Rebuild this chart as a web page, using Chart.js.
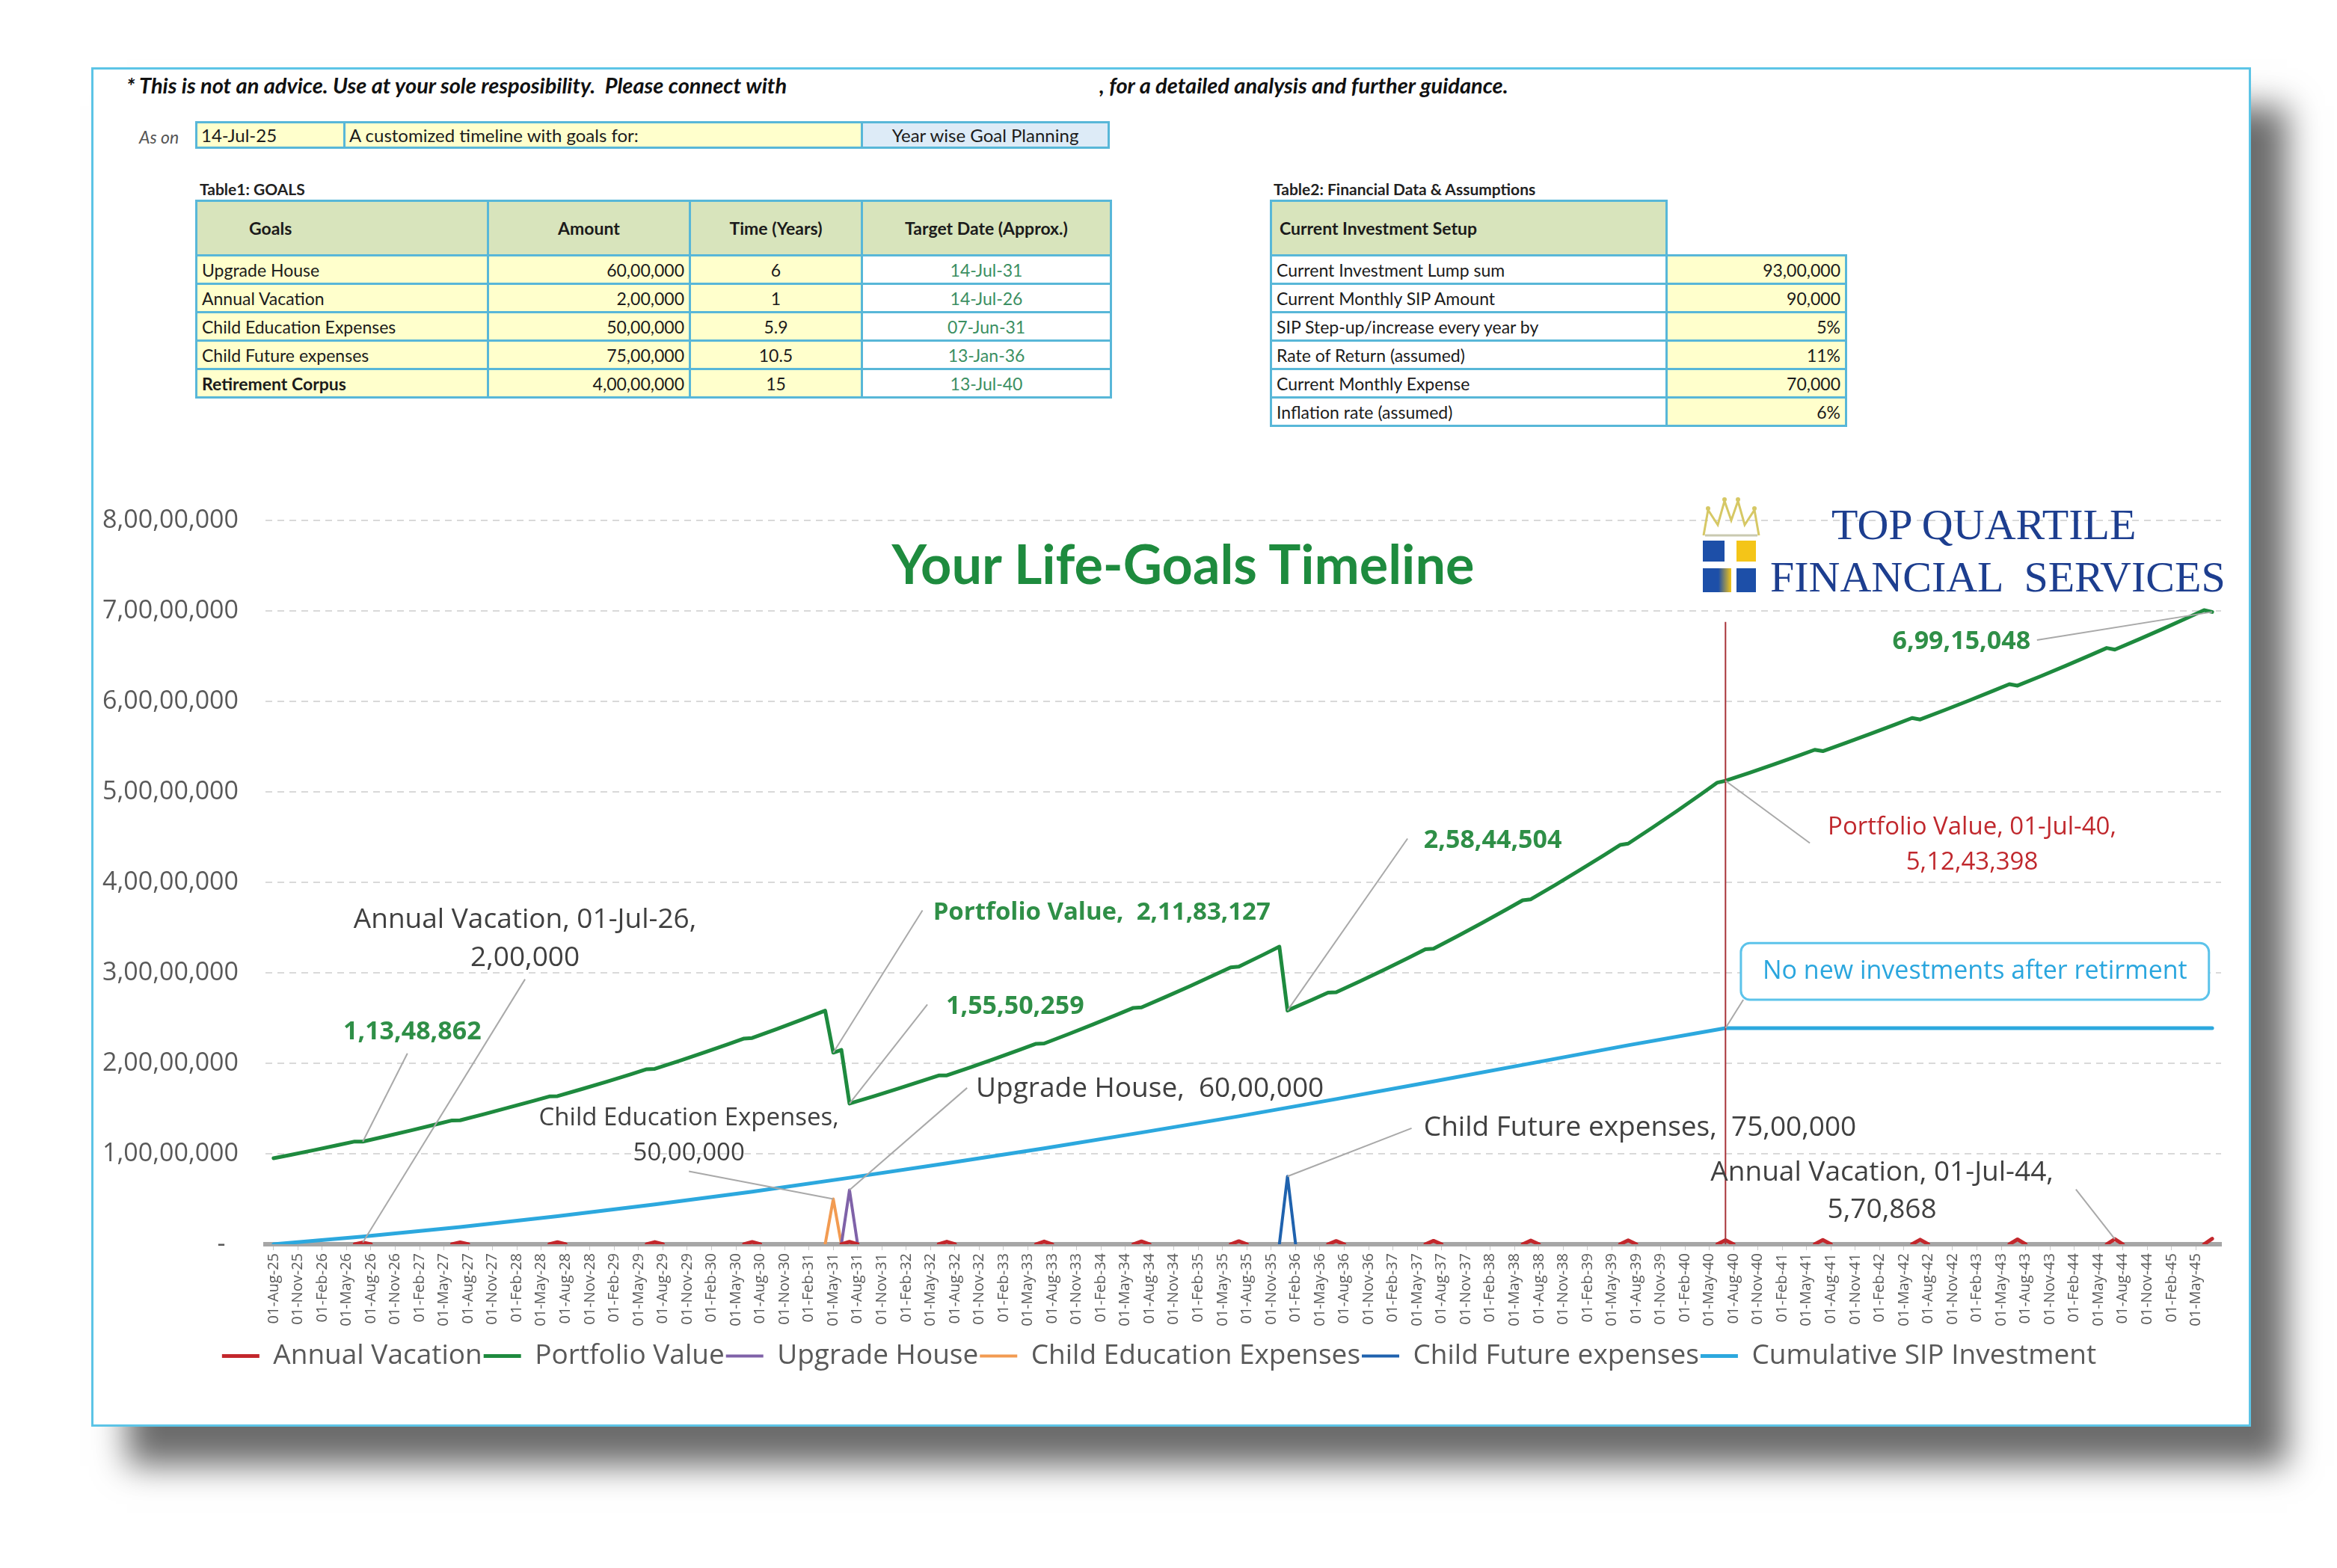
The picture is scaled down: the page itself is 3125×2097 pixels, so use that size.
<!DOCTYPE html>
<html>
<head>
<meta charset="utf-8">
<title>Your Life-Goals Timeline</title>
<script src="https://cdn.jsdelivr.net/npm/chart.js@4.4.1/dist/chart.umd.min.js"></script>
<style>
  body { margin: 0; width: 3125px; height: 2097px; background: #fff; position: relative; overflow: hidden; font-family: Lato, sans-serif; }
  .card { position: absolute; left: 122px; top: 90px; width: 2888px; height: 1818px; box-sizing: border-box;
          border: 3px solid #5CC4E6; background: #fff; box-shadow: 48px 52px 42px rgba(0,0,0,0.58); }
  .abs { position: absolute; white-space: pre; }
  .note { font-weight: 700; font-style: italic; font-size: 29px; color: #111; line-height: 30px; }
  .cell { position: absolute; box-sizing: border-box; border: 3px solid #58B7D8; height: 37px; line-height: 31px;
          font-size: 24px; color: #1b1b1b; padding: 0 5px; white-space: nowrap; }
  .t { position: absolute; border-collapse: collapse; table-layout: fixed; font-family: Lato, sans-serif; font-size: 23px; color: #1b1b1b; }
  .t td { border: 3px solid #58B7D8; padding: 0 6px; white-space: nowrap; overflow: hidden; }
  .t tr { height: 38px; }
  .t tr.hd { height: 73px; }
  .t td.h { background: #D8E4BC; font-weight: 700; font-size: 23px; }
  .y { background: #FFFFCC; }
  .g { color: #3B8F62; text-align: center; }
  .r { text-align: right; }
  .c { text-align: center; }
  .cap { font-weight: 700; font-size: 21px; color: #222; }
  #chart { position: absolute; left: 130px; top: 640px; width: 2870px; height: 1230px; }
  .title { position: absolute; left: 1182px; top: 708px; width: 800px; text-align: center; font-family: Lato, sans-serif;
           font-weight: 700; font-size: 72px; line-height: 90px; color: #1E8B3E; }
  .logo { position: absolute; font-family: 'Liberation Serif', 'DejaVu Serif', serif; font-size: 58px; line-height: 58px; color: #1D3E8F; white-space: pre; }
  .sq { position: absolute; }
</style>
</head>
<body>
<div class="card"></div>

<div class="abs note" style="left:169px; top:99px;">* This is not an advice. Use at your sole resposibility.  Please connect with</div>
<div class="abs note" style="left:1470px; top:99px;">, for a detailed analysis and further guidance.</div>

<div class="abs" style="left:186px; top:169px; font-size:23px; font-style:italic; color:#555;">As on</div>
<div class="cell y" style="left:261px; top:162px; width:201px;">14-Jul-25</div>
<div class="cell y" style="left:459px; top:162px; width:695px;">A customized timeline with goals for:</div>
<div class="cell" style="left:1151px; top:162px; width:333px; background:#DDEBF7; text-align:center;">Year wise Goal Planning</div>

<div class="abs cap" style="left:267px; top:240px;">Table1: GOALS</div>
<table class="t" style="left:261px; top:267px; width:1223px;">
  <colgroup><col style="width:390px"><col style="width:270px"><col style="width:230px"><col style="width:333px"></colgroup>
  <tr class="hd"><td class="h" style="padding-left:69px;">Goals</td><td class="h c">Amount</td><td class="h c">Time (Years)</td><td class="h c">Target Date (Approx.)</td></tr>
  <tr><td class="y">Upgrade House</td><td class="y r">60,00,000</td><td class="y c">6</td><td class="g">14-Jul-31</td></tr>
  <tr><td class="y">Annual Vacation</td><td class="y r">2,00,000</td><td class="y c">1</td><td class="g">14-Jul-26</td></tr>
  <tr><td class="y">Child Education Expenses</td><td class="y r">50,00,000</td><td class="y c">5.9</td><td class="g">07-Jun-31</td></tr>
  <tr><td class="y">Child Future expenses</td><td class="y r">75,00,000</td><td class="y c">10.5</td><td class="g">13-Jan-36</td></tr>
  <tr><td class="y" style="font-weight:700;">Retirement Corpus</td><td class="y r">4,00,00,000</td><td class="y c">15</td><td class="g">13-Jul-40</td></tr>
</table>

<div class="abs cap" style="left:1703px; top:240px;">Table2: Financial Data &amp; Assumptions</div>
<table class="t" style="left:1698px; top:267px; width:769px;">
  <colgroup><col style="width:529px"><col style="width:240px"></colgroup>
  <tr class="hd"><td class="h" style="padding-left:10px;">Current Investment Setup</td><td style="border-top:none; border-right:none;"></td></tr>
  <tr><td>Current Investment Lump sum</td><td class="y r">93,00,000</td></tr>
  <tr><td>Current Monthly SIP Amount</td><td class="y r">90,000</td></tr>
  <tr><td>SIP Step-up/increase every year by</td><td class="y r">5%</td></tr>
  <tr><td>Rate of Return (assumed)</td><td class="y r">11%</td></tr>
  <tr><td>Current Monthly Expense</td><td class="y r">70,000</td></tr>
  <tr><td>Inflation rate (assumed)</td><td class="y r">6%</td></tr>
</table>

<canvas id="chart" width="2870" height="1230"></canvas>

<div class="title">Your Life-Goals Timeline</div>

<svg class="sq" style="left:2272px; top:660px;" width="86" height="62" viewBox="0 0 86 62">
  <polyline points="6,56 12,22 25,42 34,10 43,36 52,10 61,42 74,22 80,56" fill="none" stroke="#D6C865" stroke-width="3"/>
  <polyline points="8,56 78,56" fill="none" stroke="#C9C9B0" stroke-width="3"/>
  <circle cx="34" cy="8" r="3" fill="#D6C865"/><circle cx="52" cy="8" r="3" fill="#D6C865"/>
  <circle cx="12" cy="20" r="3" fill="#D6C865"/><circle cx="74" cy="20" r="3" fill="#D6C865"/>
</svg>
<div class="sq" style="left:2277px; top:723px; width:29px; height:28px; background:#1D4FA8;"></div>
<div class="sq" style="left:2322px; top:723px; width:26px; height:28px; background:#F4C518;"></div>
<div class="sq" style="left:2277px; top:760px; width:38px; height:32px; background:linear-gradient(to right, #1D4FA8 55%, #F4C518);"></div>
<div class="sq" style="left:2322px; top:760px; width:26px; height:32px; background:#1D4FA8;"></div>
<div class="logo" style="left:2449px; top:673px;">TOP QUARTILE</div>
<div class="logo" style="left:2367px; top:743px;">FINANCIAL  SERVICES</div>

<script>
// Tick labels of the time axis (one every 3 months, the data is monthly)
const tickLabels = [
  '01-Aug-25','01-Nov-25',
  '01-Feb-26','01-May-26','01-Aug-26','01-Nov-26',
  '01-Feb-27','01-May-27','01-Aug-27','01-Nov-27',
  '01-Feb-28','01-May-28','01-Aug-28','01-Nov-28',
  '01-Feb-29','01-May-29','01-Aug-29','01-Nov-29',
  '01-Feb-30','01-May-30','01-Aug-30','01-Nov-30',
  '01-Feb-31','01-May-31','01-Aug-31','01-Nov-31',
  '01-Feb-32','01-May-32','01-Aug-32','01-Nov-32',
  '01-Feb-33','01-May-33','01-Aug-33','01-Nov-33',
  '01-Feb-34','01-May-34','01-Aug-34','01-Nov-34',
  '01-Feb-35','01-May-35','01-Aug-35','01-Nov-35',
  '01-Feb-36','01-May-36','01-Aug-36','01-Nov-36',
  '01-Feb-37','01-May-37','01-Aug-37','01-Nov-37',
  '01-Feb-38','01-May-38','01-Aug-38','01-Nov-38',
  '01-Feb-39','01-May-39','01-Aug-39','01-Nov-39',
  '01-Feb-40','01-May-40','01-Aug-40','01-Nov-40',
  '01-Feb-41','01-May-41','01-Aug-41','01-Nov-41',
  '01-Feb-42','01-May-42','01-Aug-42','01-Nov-42',
  '01-Feb-43','01-May-43','01-Aug-43','01-Nov-43',
  '01-Feb-44','01-May-44','01-Aug-44','01-Nov-44',
  '01-Feb-45','01-May-45'
];

// Month index (0 = Aug-25) and portfolio value in rupees
const portfolioMonths = [
  0, 2, 5, 8, 10, 11, 14, 17, 20, 22, 23, 26, 29, 32, 34, 35, 38, 41, 44, 46, 47,
  50, 53, 56, 58, 59, 62, 65, 68, 69, 70, 71, 74, 77, 80, 82, 83, 86, 89, 92, 94, 95,
  98, 101, 104, 106, 107, 110, 113, 116, 118, 119, 122, 124, 125, 128, 130, 131,
  134, 137, 140, 142, 143, 146, 149, 152, 154, 155, 158, 161, 164, 166, 167,
  170, 173, 176, 178, 179, 182, 185, 188, 190, 191, 194, 197, 200, 202, 203,
  206, 209, 212, 214, 215, 218, 221, 224, 226, 227, 230, 233, 236, 238, 239
];
const portfolioValues = [
  9508000, 9864000, 10410000, 10972000, 11354000, 11348862, 11966000, 12599000, 13250000, 13693000, 13705000,
  14400000, 15113000, 15846000, 16346000, 16375000, 17156000, 17960000, 18785000, 19348000, 19394000,
  20273000, 21177000, 22106000, 22739000, 22807000, 23788000, 24796000, 25832000, 21183127, 21492000, 15550259,
  16367000, 17207000, 18068000, 18656000, 18670000, 19589000, 20533000, 21504000, 22166000, 22200000,
  23234000, 24297000, 25389000, 26134000, 26191000, 27355000, 28549000, 29777000, 30614000, 30700000,
  32007000, 32898000, 25844504, 27016000, 27814000, 27861000,
  29110000, 30393000, 31710000, 32610000, 32685000, 34090000, 35533000, 37017000, 38029000, 38139000,
  39719000, 41342000, 43009000, 44147000, 44297000,
  46071000, 47895000, 49769000, 51048000, 51243398, 52144000, 53071000, 54023000, 54673000, 54523000,
  55485000, 56474000, 57491000, 58184000, 58026000,
  59052000, 60106000, 61190000, 61930000, 61766000, 62859000, 63984000, 65138000, 65927000, 65755000,
  66899000, 68074000, 69282000, 70106000, 69915048
];

// Cumulative SIP investment (flat after retirement)
const sipMonths = [0, 11, 23, 35, 47, 59, 71, 83, 95, 107, 119, 131, 143, 155, 167, 179, 239];
const sipValues = [0, 850000, 1900000, 3100000, 4400000, 5800000, 7350000, 8950000, 10600000,
  12350000, 14150000, 16050000, 18000000, 20000000, 22000000, 23900000, 23900000];

// Annual vacation every July, growing with inflation
const vacationMonths = [11, 23, 35, 47, 59, 71, 83, 95, 107, 119, 131, 143, 155, 167, 179, 191, 203, 215, 227, 239];
const vacationAmounts = [200000, 212000, 224720, 238203, 252495, 267645, 283704, 300726, 318770, 337896,
  358170, 379660, 402439, 426586, 452181, 479312, 508070, 538555, 570868, 605120];

// One-off goals
const educationMonths = [68, 69, 70];
const educationValues = [0, 5000000, 0];
const houseMonths = [70, 71, 72];
const houseValues = [0, 6000000, 0];
const futureMonths = [124, 125, 126];
const futureValues = [0, 7500000, 0];

const retireMonth = 179;

// Indian digit grouping: 8,00,00,000
function inr(n) {
  const s = Math.round(n).toString();
  if (s.length <= 3) return s;
  let rest = s.slice(0, -3);
  const parts = [];
  while (rest.length > 2) { parts.unshift(rest.slice(-2)); rest = rest.slice(0, -2); }
  if (rest) parts.unshift(rest);
  return parts.join(',') + ',' + s.slice(-3);
}

const pts = (xs, ys) => xs.map((m, i) => ({ x: m, y: ys[i] }));
const pvAt = m => portfolioValues[portfolioMonths.indexOf(m)];
const lastMonth = portfolioMonths[portfolioMonths.length - 1];

// the zero stretch between vacations lies under the axis line, so only the bumps are drawn
const vacationPoints = [];
vacationMonths.forEach((m, i) => {
  vacationPoints.push({ x: m - 1, y: 0 }, { x: m, y: vacationAmounts[i] });
  if (m < lastMonth) vacationPoints.push({ x: m + 1, y: 0 });
  vacationPoints.push({ x: m + 1.5, y: null });
});

const RED = '#C3272C', GREEN = '#1E8A3E', PURPLE = '#7F62A8', ORANGE = '#F29B52',
      DARKBLUE = '#1F62AE', LIGHTBLUE = '#2CA8DE';
const LABEL_GREEN = '#2F8F47', LABEL_GREY = '#404040', LEADER = '#A9A9A9';

// Callouts: text anchored in data space (month, rupees)
const notes = [
  { lines: [inr(pvAt(11))], x: 17.1, y: [23430000], align: 'center', color: LABEL_GREEN, bold: true, size: 34,
    from: [16.5, 21100000], to: [11, pvAt(11)] },
  { lines: ['Annual Vacation, 01-Jul-26,', inr(vacationAmounts[0])], x: 31.0, y: [35870000, 31600000], align: 'center',
    color: LABEL_GREY, size: 37, from: [31.0, 29300000], to: [11, vacationAmounts[0]] },
  { lines: ['Portfolio Value,  ' + inr(pvAt(69))], x: 81.3, y: [36660000], align: 'left', color: LABEL_GREEN, bold: true, size: 33,
    from: [80.0, 36920000], to: [69, pvAt(69)] },
  { lines: [inr(pvAt(71))], x: 82.9, y: [26290000], align: 'left', color: LABEL_GREEN, bold: true, size: 34,
    from: [80.6, 26510000], to: [71, pvAt(71)] },
  { lines: [inr(pvAt(125))], x: 141.8, y: [44600000], align: 'left', color: LABEL_GREEN, bold: true, size: 34,
    from: [139.8, 44850000], to: [125, pvAt(125)] },
  { lines: ['Child Education Expenses,', inr(educationValues[1])], x: 51.2, y: [13910000, 10000000], align: 'center',
    color: LABEL_GREY, size: 33, from: [51.2, 8070000], to: [69, educationValues[1]] },
  { lines: ['Upgrade House,  ' + inr(houseValues[1])], x: 86.6, y: [17180000], align: 'left', color: LABEL_GREY, size: 37,
    from: [85.5, 17290000], to: [71, houseValues[1]] },
  { lines: ['Child Future expenses,  ' + inr(futureValues[1])], x: 141.8, y: [12830000], align: 'left', color: LABEL_GREY, size: 37,
    from: [140.3, 12830000], to: [125, futureValues[1]] },
  { lines: ['Annual Vacation, 01-Jul-44,', inr(vacationAmounts[18])], x: 198.3, y: [7920000, 3790000], align: 'center',
    color: LABEL_GREY, size: 37, from: [222.2, 6070000], to: [227, vacationAmounts[18]] },
  { lines: ['Portfolio Value, 01-Jul-40,', inr(pvAt(179))], x: 209.4, y: [46110000, 42200000], align: 'center',
    color: '#C0282D', size: 33, from: [189.4, 44360000], to: [179, pvAt(179)] },
  { lines: [inr(pvAt(239))], x: 216.6, y: [66650000], align: 'right', color: LABEL_GREEN, bold: true, size: 34,
    from: [217.4, 66800000], to: [239, pvAt(239)] }
];
const box = { text: 'No new investments after retirment', x0: 180.9, x1: 238.6, y0: 33300000, y1: 27040000,
  from: [181.2, 27030000], to: [retireMonth, sipValues[15]] };

const callouts = {
  id: 'callouts',
  afterDatasetsDraw(chart) {
    const { ctx, scales: { x, y } } = chart;
    ctx.save();
    ctx.strokeStyle = '#A8343A';
    ctx.lineWidth = 2;
    ctx.beginPath();
    ctx.moveTo(x.getPixelForValue(retireMonth), y.getPixelForValue(0));
    ctx.lineTo(x.getPixelForValue(retireMonth), y.getPixelForValue(68800000));
    ctx.stroke();
    ctx.restore();
  },
  afterDraw(chart) {
    const { ctx, scales: { x, y } } = chart;
    const px = v => x.getPixelForValue(v), py = v => y.getPixelForValue(v);
    ctx.save();
    const leader = (a, b) => {
      ctx.strokeStyle = LEADER; ctx.lineWidth = 2;
      ctx.beginPath(); ctx.moveTo(px(a[0]), py(a[1])); ctx.lineTo(px(b[0]), py(b[1])); ctx.stroke();
    };
    notes.forEach(n => {
      leader(n.from, n.to);
      ctx.font = (n.bold ? 'bold ' : '') + n.size + "px 'Open Sans'";
      ctx.fillStyle = n.color;
      ctx.textAlign = n.align;
      ctx.textBaseline = 'middle';
      n.lines.forEach((t, i) => ctx.fillText(t, px(n.x), py(n.y[i])));
    });
    // rounded call-out box
    leader(box.from, box.to);
    const bx = px(box.x0), by = py(box.y0), bw = px(box.x1) - bx, bh = py(box.y1) - by;
    ctx.beginPath();
    ctx.roundRect(bx, by, bw, bh, 12);
    ctx.fillStyle = '#fff'; ctx.fill();
    ctx.strokeStyle = '#5CC3EA'; ctx.lineWidth = 3; ctx.stroke();
    ctx.font = "34px 'Open Sans'";
    ctx.fillStyle = '#2AA6DE';
    ctx.textAlign = 'center'; ctx.textBaseline = 'middle';
    ctx.fillText(box.text, bx + bw / 2, by + bh / 2);
    ctx.restore();
  }
};

Chart.defaults.font.family = "'Open Sans', sans-serif";
Chart.defaults.color = '#595959';

const line = (label, data, color, width) => ({
  label, data, borderColor: color, backgroundColor: color, borderWidth: width,
  pointRadius: 0, tension: 0, fill: false, spanGaps: false, borderJoinStyle: 'round', borderCapStyle: 'round'
});

new Chart(document.getElementById('chart'), {
  type: 'line',
  data: {
    datasets: [
      line('Annual Vacation', vacationPoints, RED, 5),
      line('Portfolio Value', pts(portfolioMonths, portfolioValues), GREEN, 5),
      line('Upgrade House', pts(houseMonths, houseValues), PURPLE, 4),
      line('Child Education Expenses', pts(educationMonths, educationValues), ORANGE, 4),
      line('Child Future expenses', pts(futureMonths, futureValues), DARKBLUE, 4),
      line('Cumulative SIP Investment', pts(sipMonths, sipValues), LIGHTBLUE, 5)
    ]
  },
  options: {
    responsive: false,
    animation: false,
    layout: { padding: { top: 53, right: 30, bottom: 28, left: 0 } },
    plugins: {
      legend: {
        position: 'bottom',
        labels: { usePointStyle: true, pointStyle: 'line', pointStyleWidth: 50, padding: 2,
                  color: '#595959', font: { size: 37 } }
      },
      tooltip: { enabled: false }
    },
    scales: {
      x: {
        type: 'linear', min: -1, max: 240.1, z: 1,
        afterBuildTicks: s => { s.ticks = tickLabels.map((_, i) => ({ value: i * 3 })); },
        afterFit: s => { s.height = 129; },
        ticks: { autoSkip: false, minRotation: 90, maxRotation: 90, padding: 4, font: { size: 20 },
                 callback: v => tickLabels[v / 3] },
        grid: { display: true, drawOnChartArea: false, tickLength: 8, color: '#C8C8C8' },
        border: { display: true, color: '#A6A6A6', width: 6 }
      },
      y: {
        min: 0, max: 80000000,
        afterFit: s => { s.width = 225; },
        ticks: { stepSize: 10000000, padding: 36, font: { size: 34 },
                 callback: v => v === 0 ? '-  ' : inr(v) },
        grid: { color: '#D9D9D9', lineWidth: 2, drawTicks: false },
        border: { display: false, dash: [9, 7] }
      }
    }
  },
  plugins: [callouts]
});
</script>
</body>
</html>
